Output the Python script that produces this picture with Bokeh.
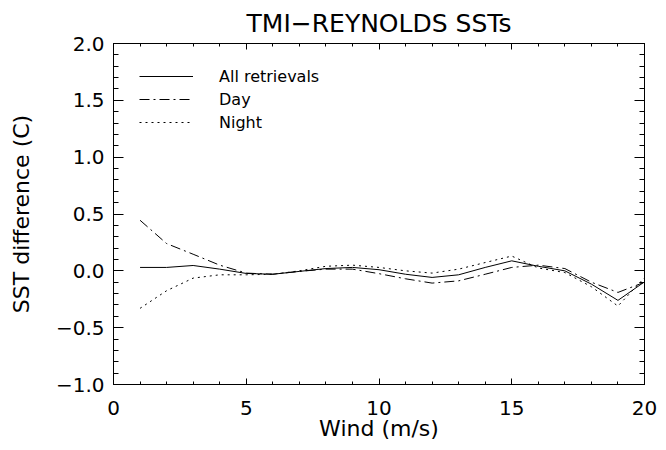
from bokeh.plotting import figure
from bokeh.models import (LinearAxis, FixedTicker, CustomJSTickFormatter, Legend,
                          LegendItem, Range1d)
from bokeh.embed import file_html
from bokeh.resources import INLINE

# ---- data ----
wind = [1, 2, 3, 4, 5, 6, 7, 8, 9, 10, 11, 12, 13, 14, 15, 16, 17, 18, 19, 20]
all_retrievals = [0.03, 0.03, 0.047, 0.015, -0.023, -0.03, -0.005, 0.02, 0.03, 0.01,
                  -0.03, -0.058, -0.035, 0.03, 0.088, 0.04, 0.0, -0.117, -0.26, -0.097]
day = [0.445, 0.24, 0.146, 0.05, -0.02, -0.03, -0.005, 0.015, 0.015, -0.025,
       -0.07, -0.108, -0.088, -0.03, 0.03, 0.05, 0.02, -0.1, -0.19, -0.1]
night = [-0.33, -0.175, -0.064, -0.035, -0.035, -0.03, 0.0, 0.04, 0.05, 0.03,
         0.0, -0.02, 0.015, 0.073, 0.13, 0.025, -0.015, -0.14, -0.31, -0.06]

x_major = [0, 5, 10, 15, 20]
x_minor = list(range(0, 21))
y_major = [-1.0, -0.5, 0.0, 0.5, 1.0, 1.5, 2.0]
y_minor = [round(-1.0 + 0.1 * i, 1) for i in range(31)]

title_text = "TMI\u2212REYNOLDS SSTs"
x_label = "Wind (m/s)"
y_label = "SST difference (C)"
legend_labels = ["All retrievals", "Day", "Night"]

FONT = "DejaVu Sans"

p = figure(width=666, height=450, output_backend="svg", toolbar_location=None,
           x_range=Range1d(0, 20), y_range=Range1d(-1, 2),
           min_border_left=113, min_border_right=22, min_border_top=42,
           min_border_bottom=66, background_fill_color="white",
           border_fill_color="white")
p.xgrid.visible = False
p.ygrid.visible = False
p.outline_line_color = "black"
p.outline_line_width = 1

p.title.text = title_text
p.title.align = "center"
p.title.text_font = FONT
p.title.text_font_size = "25px"
p.title.text_font_style = "normal"
p.title.text_color = "black"
p.title.standoff = 12

fmt_y = CustomJSTickFormatter(code="return tick.toFixed(1).replace('-', '\u2212');")
blank = CustomJSTickFormatter(code="return '';")

xa = p.xaxis[0]
xa.ticker = FixedTicker(ticks=x_major, minor_ticks=x_minor)
ya = p.yaxis[0]
ya.ticker = FixedTicker(ticks=y_major, minor_ticks=y_minor)
ya.formatter = fmt_y

top = LinearAxis(ticker=FixedTicker(ticks=x_major, minor_ticks=x_minor), formatter=blank)
right = LinearAxis(ticker=FixedTicker(ticks=y_major, minor_ticks=y_minor), formatter=blank)
p.add_layout(top, "above")
p.add_layout(right, "right")

for ax, maj, mnr in ((xa, 6, 3), (top, 6, 3), (ya, 10, 5), (right, 10, 5)):
    ax.major_tick_in = maj
    ax.major_tick_out = 0
    ax.minor_tick_in = mnr
    ax.minor_tick_out = 0
    ax.axis_line_color = "black"
    ax.major_tick_line_color = "black"
    ax.minor_tick_line_color = "black"
    ax.major_label_text_font = FONT
    ax.major_label_text_color = "black"
    ax.axis_label_text_font = FONT
    ax.axis_label_text_font_style = "normal"
    ax.axis_label_text_color = "black"

top.major_label_text_font_size = "0px"
top.major_label_standoff = 0
right.major_label_text_font_size = "0px"
right.major_label_standoff = 0

xa.major_label_text_font_size = "20px"
xa.major_label_standoff = 16
xa.axis_label = x_label
xa.axis_label_text_font_size = "22px"
xa.axis_label_standoff = -2

ya.major_label_text_font_size = "20px"
ya.major_label_standoff = 9
ya.axis_label = y_label
ya.axis_label_text_font_size = "22px"
ya.axis_label_standoff = 19

r_all = p.line(wind, all_retrievals, line_color="black", line_width=1)
r_day = p.line(wind, day, line_color="black", line_width=1, line_dash="10 4 2 4")
r_night = p.line(wind, night, line_color="black", line_width=1, line_dash="2 4")

legend = Legend(items=[LegendItem(label=legend_labels[0], renderers=[r_all]),
                       LegendItem(label=legend_labels[1], renderers=[r_day]),
                       LegendItem(label=legend_labels[2], renderers=[r_night])],
                location=(26, 252), border_line_color=None,
                background_fill_alpha=0, glyph_width=54, glyph_height=20,
                label_height=20, spacing=3, label_standoff=26, margin=0,
                padding=0, label_text_font=FONT, label_text_font_size="16px",
                label_text_color="black")
p.add_layout(legend)

open("out.html", "w").write(file_html(p, INLINE))
